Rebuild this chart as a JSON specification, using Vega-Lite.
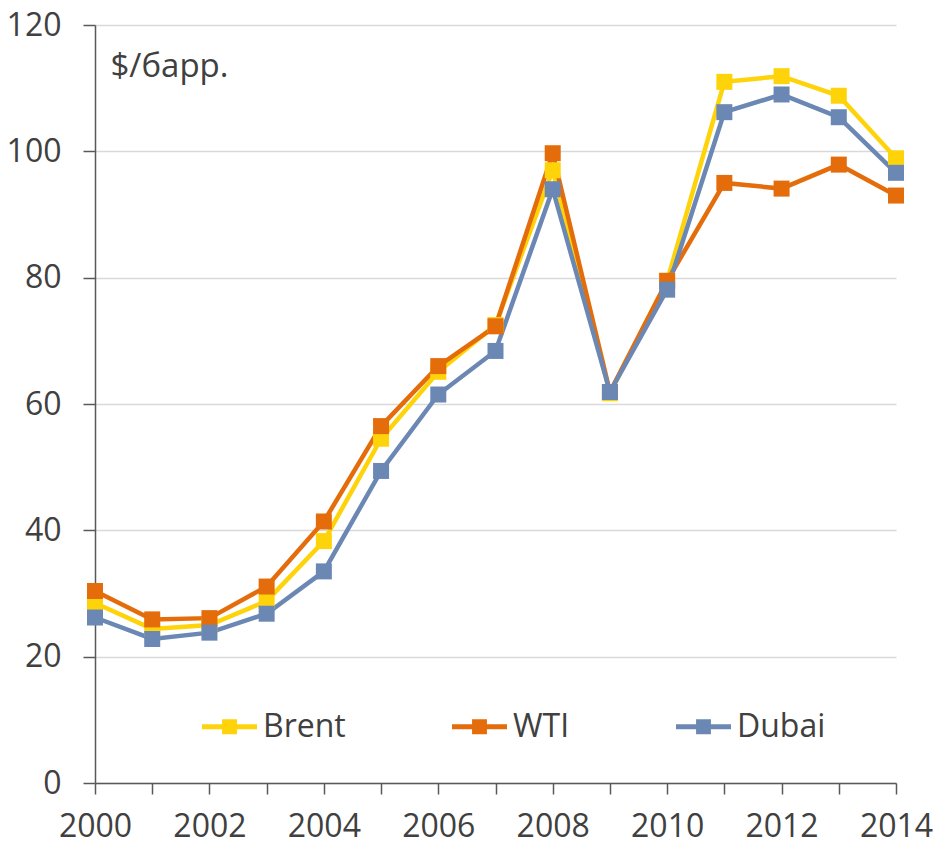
{
  "$schema": "https://vega.github.io/schema/vega-lite/v6.json",
  "width": 801,
  "height": 758,
  "autosize": {"type": "none"},
  "padding": {"left": 95, "top": 25, "right": 41, "bottom": 62},
  "background": "white",
  "config": {
    "view": {"stroke": null},
    "font": "Open Sans",
    "text": {"font": "Open Sans"}
  },
  "data": {
    "values": [
      {"year": 2000, "series": "Brent", "price": 28.5},
      {"year": 2001, "series": "Brent", "price": 24.4},
      {"year": 2002, "series": "Brent", "price": 25.0},
      {"year": 2003, "series": "Brent", "price": 28.8},
      {"year": 2004, "series": "Brent", "price": 38.3},
      {"year": 2005, "series": "Brent", "price": 54.5},
      {"year": 2006, "series": "Brent", "price": 65.1},
      {"year": 2007, "series": "Brent", "price": 72.5},
      {"year": 2008, "series": "Brent", "price": 97.0},
      {"year": 2009, "series": "Brent", "price": 61.7},
      {"year": 2010, "series": "Brent", "price": 79.5},
      {"year": 2011, "series": "Brent", "price": 111.0},
      {"year": 2012, "series": "Brent", "price": 111.9},
      {"year": 2013, "series": "Brent", "price": 108.8},
      {"year": 2014, "series": "Brent", "price": 98.9},
      {"year": 2000, "series": "WTI", "price": 30.4},
      {"year": 2001, "series": "WTI", "price": 25.9},
      {"year": 2002, "series": "WTI", "price": 26.1},
      {"year": 2003, "series": "WTI", "price": 31.1},
      {"year": 2004, "series": "WTI", "price": 41.4},
      {"year": 2005, "series": "WTI", "price": 56.5},
      {"year": 2006, "series": "WTI", "price": 66.0},
      {"year": 2007, "series": "WTI", "price": 72.3},
      {"year": 2008, "series": "WTI", "price": 99.7},
      {"year": 2009, "series": "WTI", "price": 61.9},
      {"year": 2010, "series": "WTI", "price": 79.5},
      {"year": 2011, "series": "WTI", "price": 95.0},
      {"year": 2012, "series": "WTI", "price": 94.1},
      {"year": 2013, "series": "WTI", "price": 97.9},
      {"year": 2014, "series": "WTI", "price": 93.0},
      {"year": 2000, "series": "Dubai", "price": 26.2},
      {"year": 2001, "series": "Dubai", "price": 22.8},
      {"year": 2002, "series": "Dubai", "price": 23.8},
      {"year": 2003, "series": "Dubai", "price": 26.8},
      {"year": 2004, "series": "Dubai", "price": 33.5},
      {"year": 2005, "series": "Dubai", "price": 49.4},
      {"year": 2006, "series": "Dubai", "price": 61.5},
      {"year": 2007, "series": "Dubai", "price": 68.4},
      {"year": 2008, "series": "Dubai", "price": 94.0},
      {"year": 2009, "series": "Dubai", "price": 61.9},
      {"year": 2010, "series": "Dubai", "price": 78.1},
      {"year": 2011, "series": "Dubai", "price": 106.2},
      {"year": 2012, "series": "Dubai", "price": 109.0},
      {"year": 2013, "series": "Dubai", "price": 105.4},
      {"year": 2014, "series": "Dubai", "price": 96.6}
    ]
  },
  "encoding": {
    "x": {
      "field": "year",
      "type": "quantitative",
      "scale": {"domain": [2000, 2014], "nice": false, "zero": false},
      "axis": {
        "title": null,
        "values": [2000, 2001, 2002, 2003, 2004, 2005, 2006, 2007, 2008, 2009, 2010, 2011, 2012, 2013, 2014],
        "format": "d",
        "labelExpr": "datum.value % 2 == 0 ? datum.label : ''",
        "grid": false,
        "domainColor": "#595959",
        "domainWidth": 1.5,
        "tickColor": "#595959",
        "tickWidth": 1.5,
        "tickSize": 11,
        "labelFontSize": 32,
        "labelColor": "#404040",
        "labelPadding": 17,
        "labelFlush": false,
        "labelOverlap": false
      }
    },
    "y": {
      "field": "price",
      "type": "quantitative",
      "scale": {"domain": [0, 120], "nice": false},
      "axis": {
        "title": null,
        "values": [0, 20, 40, 60, 80, 100, 120],
        "grid": true,
        "gridColor": "#D9D9D9",
        "gridWidth": 1.5,
        "domainColor": "#595959",
        "domainWidth": 1.5,
        "tickColor": "#595959",
        "tickWidth": 1.5,
        "tickSize": 12,
        "labelFontSize": 32,
        "labelColor": "#404040",
        "labelPadding": 22,
        "labelFlush": false
      }
    },
    "color": {
      "field": "series",
      "type": "nominal",
      "scale": {"domain": ["Brent", "WTI", "Dubai"], "range": ["#FFD30A", "#E46C0A", "#6B88B4"]},
      "legend": {
        "title": null,
        "orient": "none",
        "legendX": 107,
        "legendY": 674,
        "direction": "horizontal",
        "columns": 3,
        "gridAlign": "each",
        "columnPadding": 106,
        "padding": 0,
        "symbolType": "M-1,-0.09H1V0.09H-1Z M-0.27,-0.27H0.27V0.27H-0.27Z",
        "symbolSize": 3025,
        "symbolStrokeWidth": 0,
        "labelFontSize": 32,
        "labelColor": "#404040",
        "labelOffset": 6,
        "labelLimit": 300,
        "encode": {
          "symbols": {
            "update": {
              "fill": {"scale": "color", "field": "value"},
              "stroke": {"value": "transparent"},
              "opacity": {"value": 1}
            }
          }
        }
      }
    }
  },
  "layer": [
    {
      "mark": {"type": "line", "strokeWidth": 4.5}
    },
    {
      "mark": {"type": "point", "shape": "square", "filled": true, "size": 256, "opacity": 1}
    },
    {
      "data": {"values": [{"label": "$/барр.", "x": 2000.27, "y": 111.8}]},
      "mark": {"type": "text", "align": "left", "baseline": "alphabetic", "fontSize": 33, "color": "#404040"},
      "encoding": {
        "x": {"field": "x", "type": "quantitative"},
        "y": {"field": "y", "type": "quantitative"},
        "text": {"field": "label"},
        "color": {"value": "#404040"}
      }
    }
  ]
}
